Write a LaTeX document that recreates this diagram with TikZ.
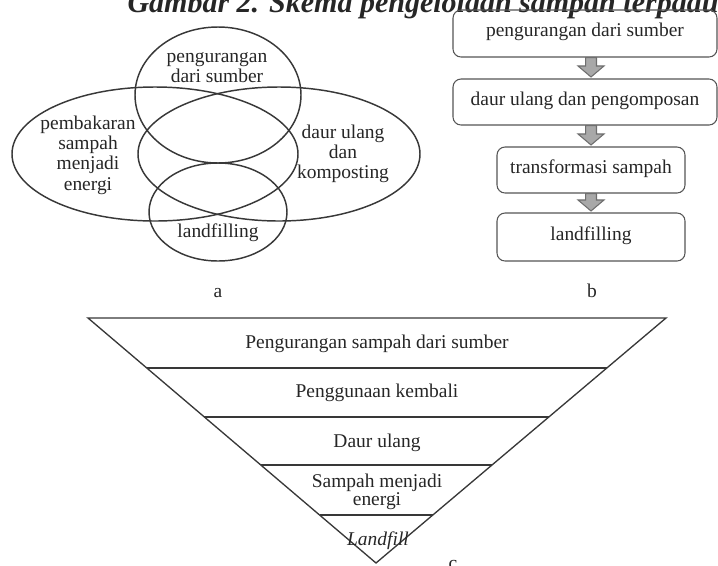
\documentclass[tikz,border=0pt]{standalone}
\usepackage{fontspec}
\setmainfont{Liberation Serif}
\usetikzlibrary{calc}
\definecolor{ink}{HTML}{262626}
\definecolor{vline}{HTML}{383838}
\definecolor{boxline}{HTML}{555555}
\definecolor{arrowfill}{HTML}{A8A8A8}
\definecolor{arrowline}{HTML}{6E6E6E}
\tikzset{
  txt/.style={font=\fontsize{14.6}{14.8}\selectfont, text=ink, inner sep=0pt, align=center},
  venn/.style={draw=vline, line width=1.1pt},
  stagebox/.style={draw=boxline, rounded corners=6pt, line width=0.8pt, inner sep=0pt,
    font=\fontsize{14.6}{14.8}\selectfont, text=ink, text height=0.7em, text depth=0.25em},
  tri/.style={draw=vline, line width=1pt},
  barrow/.style={fill=arrowfill, draw=arrowline, line width=0.8pt, line join=miter}
}
\newcommand{\blockarr}[2]{%
  \draw[barrow] let \p1=(#1), \p2=(#2) in
    (\x1-4.1pt,\y1) -- (\x1+4.1pt,\y1) -- (\x1+4.1pt,\y2+8.25pt) -- (\x1+9.75pt,\y2+8.25pt)
    -- (\x1,\y2) -- (\x1-9.75pt,\y2+8.25pt) -- (\x1-4.1pt,\y2+8.25pt) -- cycle;}
\begin{document}
\begin{tikzpicture}[x=0.75pt,y=-0.75pt]
\useasboundingbox (0,0) rectangle (718,565);
% title (cut at the top edge)
\node[anchor=base, inner sep=0pt, text=ink, font=\fontsize{22.5}{27}\selectfont\bfseries\itshape] (title) at (423,12.5) {Gambar 2. Skema pengelolaan sampah terpadu};
% ---- a: Venn ----
\draw[venn] (218,95) ellipse [x radius=83, y radius=68];
\draw[venn] (155,154) ellipse [x radius=143, y radius=67];
\draw[venn] (279,154) ellipse [x radius=141, y radius=67];
\draw[venn] (218,212) ellipse [x radius=69, y radius=49];
\node[txt] (v1) at (217,67.5) {pengurangan\\dari sumber};
\node[txt, font=\fontsize{14.6}{15.2}\selectfont] (v2) at (88,155) {pembakaran\\sampah\\menjadi\\energi};
\node[txt, font=\fontsize{14.6}{15.2}\selectfont] (v3) at (343,154) {daur ulang\\dan\\komposting};
\node[txt, anchor=base] (v4) at (218,237) {landfilling};
\node[txt, anchor=base] (la) at (218,297) {a};
% ---- b: flow ----
\node[stagebox, minimum width=198pt, minimum height=35.25pt] (b1) at (585,33.5) {pengurangan dari sumber};
\node[stagebox, minimum width=198pt, minimum height=34.5pt] (b2) at (585,102) {daur ulang dan pengomposan};
\node[stagebox, minimum width=141pt, minimum height=34.5pt] (b3) at (591,170) {transformasi sampah};
\node[stagebox, minimum width=141pt, minimum height=36pt] (b4) at (591,237) {landfilling};
\blockarr{$(b1.south -| b3.center)$}{$(b2.north -| b3.center)+(0,-1.5)$}
\blockarr{$(b2.south -| b3.center)$}{$(b3.north)+(0,-1.5)$}
\blockarr{$(b3.south)$}{$(b4.north)+(0,-1.5)$}
\node[txt, anchor=base] (lb) at (592,297) {b};
% ---- c: inverted triangle ----
\coordinate (TL) at (88,318);
\coordinate (TR) at (666,318);
\coordinate (AP) at (376,563);
\draw[tri] (TL) -- (TR) -- (AP) -- cycle;
\foreach \t in {0.204,0.404,0.6,0.804}
  \draw[tri] ($(TL)!\t!(AP)$) -- ($(TR)!\t!(AP)$);
\node[txt, anchor=base] (t1) at (377,348) {Pengurangan sampah dari sumber};
\node[txt, anchor=base] (t2) at (377,397) {Penggunaan kembali};
\node[txt, anchor=base] (t3) at (377,447) {Daur ulang};
\node[txt, font=\fontsize{14.6}{13.5}\selectfont] (t4) at (377,491.5) {Sampah menjadi\\energi};
\node[txt, anchor=base, font=\fontsize{14.6}{14.8}\selectfont\itshape] (t5) at (378,545) {Landfill};
\node[txt, anchor=base] (lc) at (453,569) {c};
\end{tikzpicture}
\end{document}
